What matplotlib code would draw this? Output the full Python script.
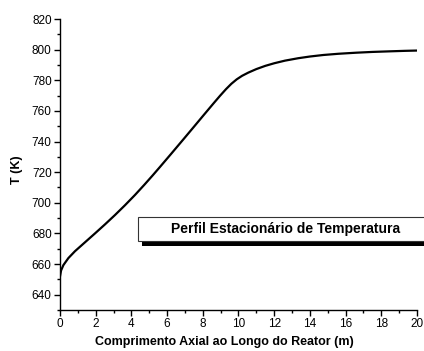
import numpy as np
import matplotlib
matplotlib.use("Agg")
import matplotlib.pyplot as plt
from matplotlib.patches import Rectangle
from matplotlib.ticker import MultipleLocator

plt.rcParams['font.family'] = ['Liberation Sans', 'DejaVu Sans']

# curve
z = [0.0, 0.06, 0.19, 0.47, 0.84, 1.4, 1.96, 2.52, 3.08, 3.64, 4.2, 4.72,
     5.2, 5.6, 6.2, 6.91, 7.5, 8.03, 8.6, 8.96, 9.3, 9.6, 9.9, 10.2, 10.55,
     11.0, 11.5, 12.0, 12.6, 13.35, 14.0, 14.75, 15.6, 16.6, 17.5, 18.5,
     19.3, 20.0]
T = [652.0, 655.8, 659.3, 663.9, 668.4, 674.2, 680.0, 685.9, 692.0, 698.4,
     705.1, 711.7, 718.0, 723.4, 731.6, 741.4, 749.6, 757.0, 764.9, 769.8,
     774.2, 777.7, 780.6, 782.9, 785.0, 787.3, 789.4, 791.1, 792.8, 794.4,
     795.5, 796.5, 797.3, 798.0, 798.5, 798.9, 799.2, 799.4]

xlabel = 'Comprimento Axial ao Longo do Reator (m)'
ylabel = 'T (K)'
legend_text = 'Perfil Estacionário de Temperatura'

W, H = 424, 351
fig = plt.figure(figsize=(W / 100, H / 100), dpi=100)
ax = fig.add_axes([60 / W, 1 - 310 / H, (417 - 60) / W, (310 - 19) / H])

ax.plot(z, T, color='black', linewidth=1.6, solid_joinstyle='round')

ax.set_xlim(0, 20)
ax.set_ylim(630, 820)
ax.xaxis.set_major_locator(MultipleLocator(2))
ax.xaxis.set_minor_locator(MultipleLocator(1))
ax.yaxis.set_minor_locator(MultipleLocator(10))
ax.set_yticks(np.arange(640, 821, 20))

for s in ['top', 'right']:
    ax.spines[s].set_visible(False)
for s in ['left', 'bottom']:
    ax.spines[s].set_linewidth(1.0)

ax.tick_params(which='major', direction='out', length=4, width=1, labelsize=8.5, pad=2)
ax.tick_params(which='minor', direction='out', length=2.5, width=1)

fig.text(224 / W, 1 - 342 / H, xlabel, ha='center', va='center',
         fontsize=9, fontweight='bold')
fig.text(17 / W, 1 - 170 / H, ylabel, ha='center', va='center',
         fontsize=9, fontweight='bold', rotation=90)

# boxed caption with drop shadow
x0, x1 = 138, 430
y0, y1 = 217, 241
fig.patches.append(Rectangle(((x0 + 4) / W, 1 - (y1 + 5) / H), (x1 - x0) / W, (y1 - y0) / H,
                             transform=fig.transFigure, facecolor='black',
                             edgecolor='black', linewidth=0))
fig.patches.append(Rectangle((x0 / W, 1 - y1 / H), (x1 - x0) / W, (y1 - y0) / H,
                             transform=fig.transFigure, facecolor='white',
                             edgecolor='#333333', linewidth=0.8))
fig.text(285.5 / W, 1 - 229 / H, legend_text, ha='center', va='center',
         fontsize=10, fontweight='bold')

fig.savefig('out.png', dpi=100)
